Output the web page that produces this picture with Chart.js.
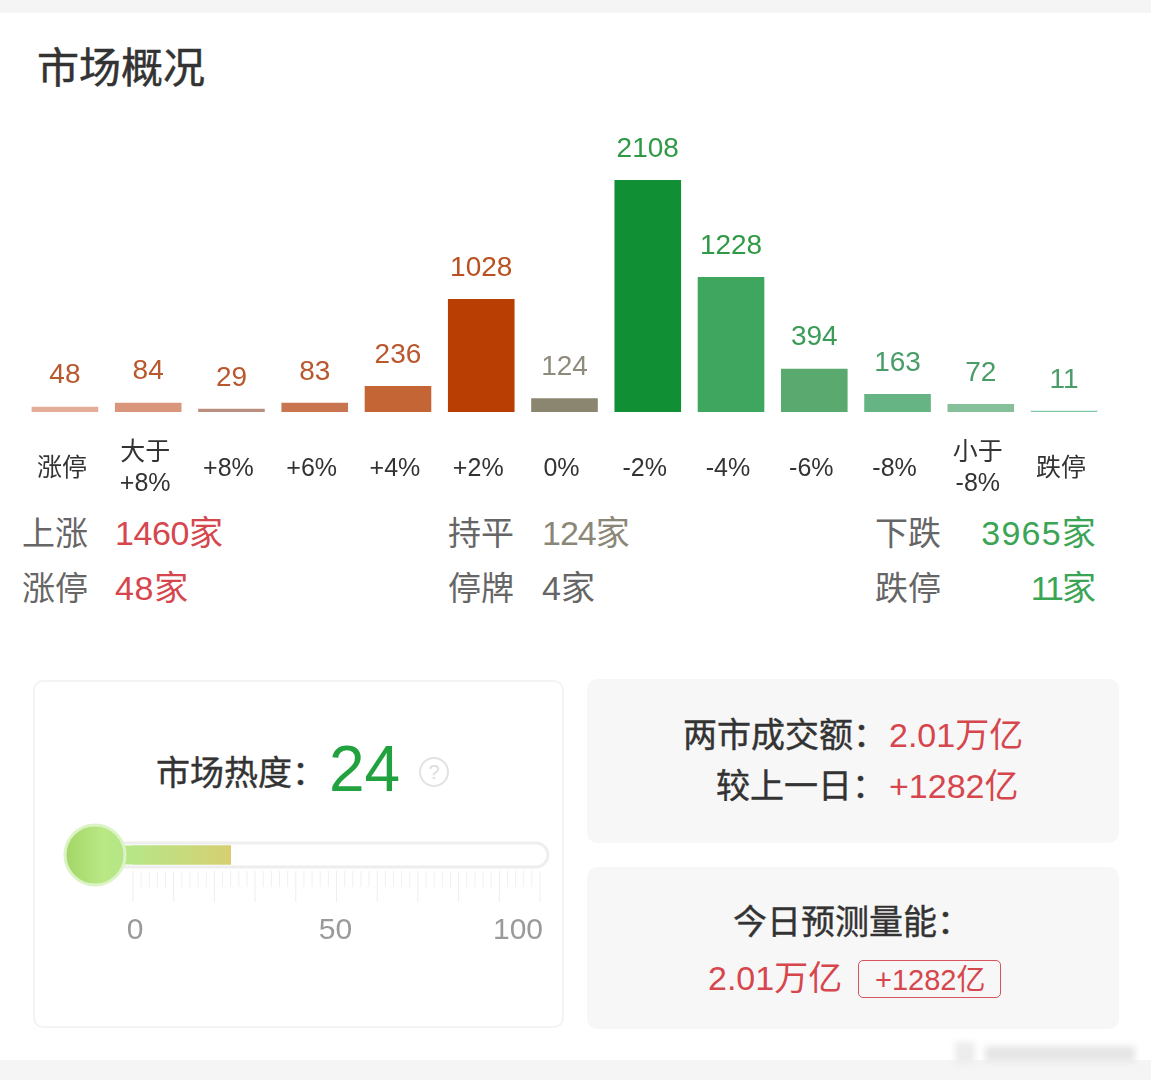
<!DOCTYPE html>
<html lang="zh">
<head>
<meta charset="utf-8">
<title>市场概况</title>
<script src="https://cdn.jsdelivr.net/npm/chart.js@4"></script>
<style>
  html, body { margin: 0; padding: 0; background: #fff; }
  body { width: 1151px; height: 1080px; position: relative; overflow: hidden;
         font-family: 'Liberation Sans', 'Noto Sans CJK SC', sans-serif; }
  canvas { position: absolute; }
  .strip { position: absolute; left: 0; width: 1151px; background: #f5f5f5; }
  .t { position: absolute; white-space: nowrap; line-height: 1; transform: translateY(-50%); }
  .r { transform: translate(-100%, -50%); }
  .card { position: absolute; box-sizing: border-box; border-radius: 10px; }
  .red { color: #d6464d; }
  .green { color: #3ba556; }
  .gray { color: #8b8778; }
  .label { color: #666; font-size: 33px; }
  .dark { color: #333; font-size: 34px; -webkit-text-stroke: .4px #333; }
  .num { font-size: 34px; }
  .mark { position: absolute; filter: blur(3px); }
</style>
</head>
<body>
<div class="strip" style="top:0;height:13px"></div>
<div class="strip" style="top:1060px;height:20px"></div>

<div class="t" style="left:37px;top:69px;font-size:42px;color:#333;-webkit-text-stroke:.5px #333">市场概况</div>

<canvas id="distChart" width="1151" height="400" style="left:0;top:100px"></canvas>

<div class="t label" style="left:22px;top:533px">上涨</div>
<div class="t num red" id="upCount" style="left:115px;top:533px;letter-spacing:-.4px"></div>
<div class="t label" style="left:22px;top:588px">涨停</div>
<div class="t num red" id="limitUp" style="left:115px;top:588px;letter-spacing:.7px"></div>
<div class="t label" style="left:448px;top:533px">持平</div>
<div class="t num gray" id="flatCount" style="left:542px;top:533px;letter-spacing:-1px"></div>
<div class="t label" style="left:448px;top:588px">停牌</div>
<div class="t num" id="haltCount" style="left:542px;top:588px;color:#666"></div>
<div class="t label" style="left:875px;top:533px">下跌</div>
<div class="t r num green" id="downCount" style="left:1097px;top:533px;letter-spacing:1.2px"></div>
<div class="t label" style="left:875px;top:588px">跌停</div>
<div class="t r num green" id="limitDown" style="left:1094px;top:588px;letter-spacing:-2px"></div>

<div class="card" style="left:33px;top:680px;width:531px;height:348px;border:2px solid #f3f3f3"></div>
<div class="card" style="left:587px;top:679px;width:532px;height:164px;background:#f7f7f7"></div>
<div class="card" style="left:587px;top:867px;width:532px;height:162px;background:#f7f7f7"></div>

<div class="t dark" style="left:156px;top:773px">市场热度：</div>
<div class="t" id="heatValue" style="left:329px;top:769px;font-size:64px;color:#22a23e"></div>
<div class="t" style="left:419px;top:757px;width:26px;height:26px;border:2.5px solid #e2e2e2;border-radius:50%;transform:none;text-align:center;line-height:26px;font-size:20px;color:#dcdcdc">?</div>

<canvas id="heatChart" width="531" height="130" style="left:33px;top:815px"></canvas>

<div class="t dark" style="left:683px;top:735px">两市成交额：</div>
<div class="t num red" id="turnover" style="left:889px;top:735px"></div>
<div class="t dark" style="left:716px;top:786px">较上一日：</div>
<div class="t num red" id="turnoverDiff" style="left:889px;top:786px"></div>
<div class="t dark" style="left:733px;top:922px">今日预测量能：</div>
<div class="t num red" id="forecast" style="left:708px;top:978px"></div>
<div class="card" style="left:858px;top:960px;width:143px;height:38px;border:1.5px solid #d8535a;border-radius:5px"></div>
<div class="t red" id="forecastDiff" style="left:875px;top:980px;font-size:29px"></div>

<div class="mark" style="left:955px;top:1042px;width:20px;height:22px;background:#ececec"></div>
<div class="mark" style="left:985px;top:1046px;width:150px;height:16px;background:#e6e6e6"></div>

<script>
const categories = [['涨停'], ['大于', '+8%'], ['+8%'], ['+6%'], ['+4%'], ['+2%'], ['0%'], ['-2%'], ['-4%'], ['-6%'], ['-8%'], ['小于', '-8%'], ['跌停']];
const counts = [48, 84, 29, 83, 236, 1028, 124, 2108, 1228, 394, 163, 72, 11];

const upCount = '1460家';
const limitUp = '48家';
const flatCount = '124家';
const haltCount = '4家';
const downCount = '3965家';
const limitDown = '11家';

const heatValue = [24];
const heatLabels = [0, 50, 100];

const turnover = '2.01万亿';
const turnoverDiff = '+1282亿';

const barColors = ['#e3ad98', '#d9967b', '#bb8f80', '#c97550', '#c46536', '#b83e04', '#8b8670',
                   '#118f35', '#3fa65f', '#5aaa70', '#66b383', '#86c09a', '#7fc6a6'];
const valueColors = ['#b9572d', '#b9572d', '#b9572d', '#b9572d', '#b9572d', '#b9501f', '#8f8b7c',
                     '#2f9a45', '#2f9a45', '#3c9c57', '#4a9c68', '#4a9c68', '#4a9c68'];
const fontFamily = "'Liberation Sans', 'Noto Sans CJK SC', sans-serif";

for (const [id, text] of Object.entries({ upCount, limitUp, flatCount, haltCount, downCount, limitDown, turnover, turnoverDiff })) {
  document.getElementById(id).textContent = text;
}
document.getElementById('heatValue').textContent = heatValue[0];
document.getElementById('forecast').textContent = turnover;
document.getElementById('forecastDiff').textContent = turnoverDiff;

// value above each bar, no datalabels plugin available
const barValues = {
  id: 'barValues',
  afterDatasetsDraw(chart) {
    const { ctx } = chart;
    ctx.save();
    ctx.font = `28px ${fontFamily}`;
    ctx.textAlign = 'center';
    ctx.textBaseline = 'middle';
    chart.getDatasetMeta(0).data.forEach((bar, i) => {
      ctx.fillStyle = valueColors[i];
      ctx.fillText(counts[i], bar.x, bar.y - 31);
    });
    ctx.restore();
  },
};

new Chart(document.getElementById('distChart'), {
  type: 'bar',
  data: {
    labels: categories,
    datasets: [{
      data: counts,
      backgroundColor: barColors,
      borderWidth: 0,
      barPercentage: 0.8,
      categoryPercentage: 1,
    }],
  },
  options: {
    responsive: false,
    animation: false,
    layout: { padding: { left: 23.3, right: 45.3, top: 4, bottom: 0 } },
    plugins: { legend: { display: false }, tooltip: { enabled: false } },
    scales: {
      x: {
        grid: { display: false, drawTicks: false },
        border: { display: false },
        afterFit(scale) {
          scale.height = 88;
          scale.paddingLeft = 0;
          scale.paddingRight = 0;
        },
        ticks: {
          autoSkip: false,
          maxRotation: 0,
          crossAlign: 'center',
          padding: 41,
          labelOffset: -3,
          color: '#333',
          font: { family: fontFamily, size: 25, lineHeight: 1.26 },
        },
      },
      y: { display: false, min: 0, max: 2800 },
    },
  },
  plugins: [barValues],
});

// track, knob and ruler of the heat gauge
const heatGauge = {
  id: 'heatGauge',
  beforeDatasetsDraw(chart) {
    const { ctx } = chart;
    const x = chart.scales.x;
    const yMid = (chart.chartArea.top + chart.chartArea.bottom) / 2;
    ctx.save();
    ctx.beginPath();
    ctx.roundRect(x.left - 32, yMid - 12, x.right + 8 - x.left + 32, 24, 12);
    ctx.fillStyle = '#fff';
    ctx.fill();
    ctx.lineWidth = 3;
    ctx.strokeStyle = '#eeeeee';
    ctx.stroke();
    ctx.restore();
  },
  afterDatasetsDraw(chart) {
    const { ctx } = chart;
    const x = chart.scales.x;
    const yMid = (chart.chartArea.top + chart.chartArea.bottom) / 2;
    ctx.save();
    const cx = x.left - 38;
    // neck between knob and bar
    ctx.fillStyle = '#b7e687';
    ctx.fillRect(cx, yMid - 9.5, 38.5, 19);
    // knob
    const grad = ctx.createLinearGradient(cx - 30, 0, cx + 30, 0);
    grad.addColorStop(0, '#a3d668');
    grad.addColorStop(0.65, '#b9e885');
    grad.addColorStop(1, '#b5e585');
    ctx.beginPath();
    ctx.arc(cx, yMid, 30, 0, Math.PI * 2);
    ctx.fillStyle = grad;
    ctx.fill();
    ctx.lineWidth = 3;
    ctx.strokeStyle = '#dcf3c6';
    ctx.stroke();
    // ruler
    const top = yMid + 16;
    for (let v = 0; v <= 100; v += 2) {
      const px = x.getPixelForValue(v);
      const major = v % 10 === 0;
      ctx.beginPath();
      ctx.moveTo(px, top);
      ctx.lineTo(px, top + (major ? 31 : 16));
      ctx.lineWidth = 1;
      ctx.strokeStyle = major ? '#eeeeee' : '#f0f0f0';
      ctx.stroke();
    }
    // labels
    ctx.font = `30px ${fontFamily}`;
    ctx.fillStyle = '#9a9a9a';
    ctx.textBaseline = 'middle';
    heatLabels.forEach((v, i) => {
      ctx.textAlign = i === heatLabels.length - 1 ? 'right' : 'center';
      ctx.fillText(v, x.getPixelForValue(v) + [2, -1, 3][i], yMid + 76);
    });
    ctx.restore();
  },
};

new Chart(document.getElementById('heatChart'), {
  type: 'bar',
  data: {
    labels: ['市场热度'],
    datasets: [{
      data: heatValue,
      barThickness: 19,
      borderWidth: 0,
      backgroundColor(context) {
        const { chart } = context;
        if (!chart.chartArea) return '#c9dc7c';
        const x = chart.scales.x;
        const grad = chart.ctx.createLinearGradient(x.left, 0, x.getPixelForValue(heatValue[0]), 0);
        grad.addColorStop(0, '#b7e687');
        grad.addColorStop(1, '#d6cf72');
        return grad;
      },
    }],
  },
  options: {
    indexAxis: 'y',
    responsive: false,
    animation: false,
    layout: { padding: { left: 100, right: 24, top: 20, bottom: 70 } },
    plugins: { legend: { display: false }, tooltip: { enabled: false } },
    scales: {
      x: { display: false, min: 0, max: 100 },
      y: { display: false },
    },
  },
  plugins: [heatGauge],
});
</script>
</body>
</html>
